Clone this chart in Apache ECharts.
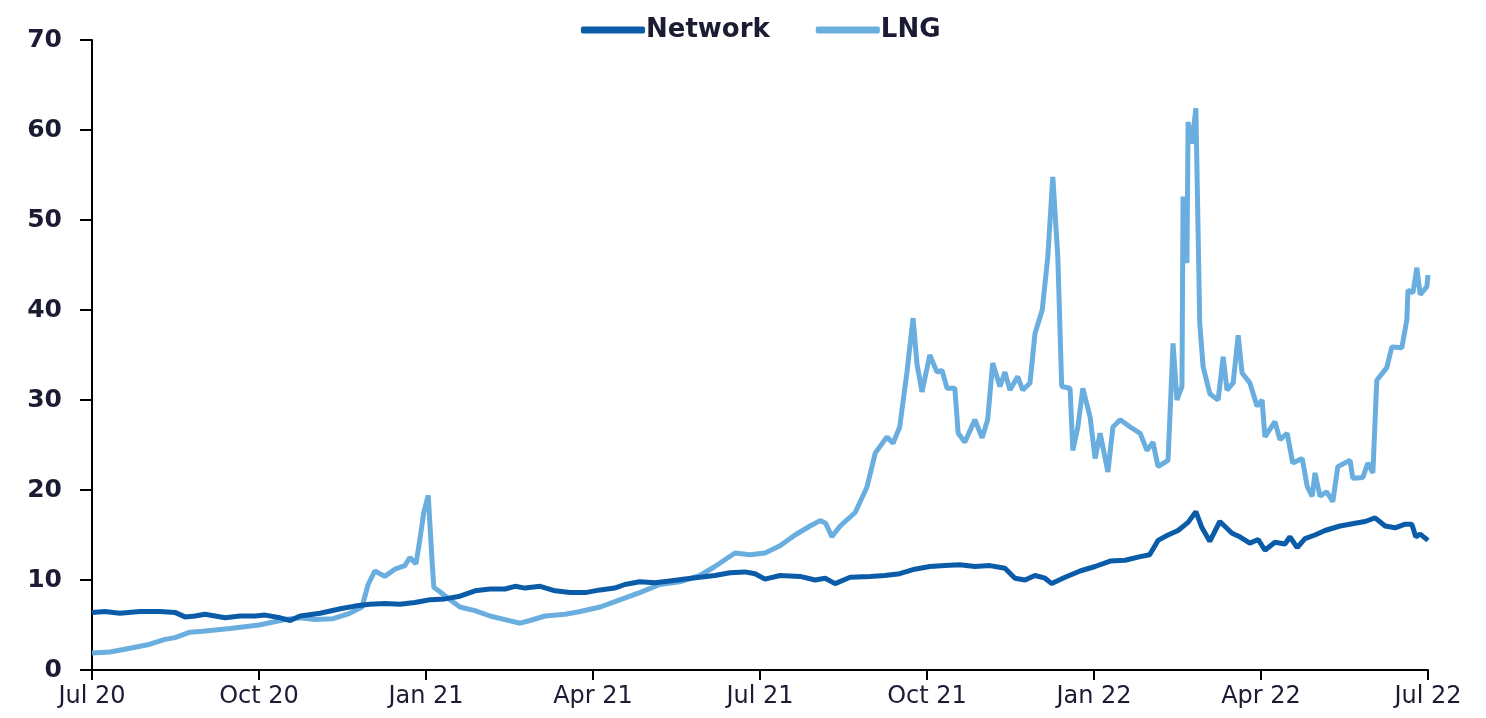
<!DOCTYPE html>
<html>
<head>
<meta charset="utf-8">
<script src="https://cdn.jsdelivr.net/npm/echarts@6/dist/echarts.min.js"></script>
<style>
html,body{margin:0;padding:0;background:#fff;}
#chart{width:1486px;height:718px;}
</style>
</head>
<body>
<div id="chart"></div>
<script>
// x values are months since Jul 2020
const xTickLabels = ['Jul 20','Oct 20','Jan 21','Apr 21','Jul 21','Oct 21','Jan 22','Apr 22','Jul 22'];
const seriesNames = ['Network','LNG'];

const networkMonths = [0,0.23,0.5,0.86,1.22,1.49,1.67,1.85,2.03,2.21,2.39,2.66,2.93,3.11,3.38,3.56,3.74,4.1,4.46,4.72,4.99,5.26,5.53,5.8,6.07,6.34,6.61,6.88,7.15,7.42,7.6,7.78,8.05,8.32,8.59,8.86,9.13,9.39,9.57,9.84,10.11,10.38,10.65,10.92,11.19,11.46,11.73,11.91,12.09,12.36,12.72,12.99,13.17,13.35,13.62,13.98,14.24,14.51,14.78,15.05,15.32,15.59,15.86,16.13,16.4,16.58,16.76,16.94,17.12,17.24,17.48,17.75,18.02,18.29,18.56,18.83,19.0,19.15,19.33,19.51,19.69,19.83,19.94,20.08,20.26,20.48,20.62,20.8,20.95,21.07,21.25,21.43,21.52,21.65,21.79,21.97,22.15,22.42,22.69,22.87,23.05,23.23,23.41,23.59,23.71,23.78,23.86,24];
const networkValues = [6.4,6.5,6.3,6.5,6.5,6.4,5.9,6.0,6.2,6.0,5.8,6.0,6.0,6.1,5.8,5.5,6.0,6.3,6.8,7.1,7.3,7.4,7.3,7.5,7.8,7.9,8.2,8.8,9.0,9.0,9.3,9.1,9.3,8.8,8.6,8.6,8.9,9.1,9.5,9.8,9.7,9.9,10.1,10.3,10.5,10.8,10.9,10.7,10.1,10.5,10.4,10.0,10.2,9.6,10.3,10.4,10.5,10.7,11.2,11.5,11.6,11.7,11.5,11.6,11.3,10.2,10.0,10.5,10.2,9.6,10.3,11.0,11.5,12.1,12.2,12.6,12.8,14.4,15.0,15.5,16.4,17.6,15.8,14.3,16.5,15.2,14.8,14.1,14.5,13.3,14.2,14.0,14.8,13.6,14.6,15.0,15.5,16.0,16.3,16.5,16.9,16.0,15.8,16.2,16.2,14.8,15.1,14.4];

const lngMonths = [0,0.32,0.59,1.0,1.31,1.49,1.76,1.99,2.48,3.0,3.47,3.74,4.0,4.33,4.63,4.85,4.96,5.08,5.26,5.44,5.62,5.71,5.82,5.89,5.96,6.04,6.11,6.14,6.25,6.39,6.61,6.88,7.15,7.42,7.69,7.87,8.14,8.5,8.77,9.13,9.48,9.84,10.2,10.56,10.92,11.19,11.55,11.82,12.09,12.36,12.63,12.9,13.08,13.18,13.29,13.44,13.71,13.92,14.07,14.28,14.39,14.51,14.64,14.75,14.82,14.91,15.05,15.18,15.27,15.36,15.5,15.56,15.68,15.86,15.99,16.09,16.18,16.31,16.4,16.49,16.63,16.72,16.85,16.94,17.07,17.17,17.26,17.35,17.42,17.57,17.62,17.71,17.8,17.93,18.02,18.11,18.25,18.34,18.47,18.65,18.83,18.95,19.06,19.15,19.33,19.42,19.49,19.58,19.6,19.67,19.69,19.76,19.83,19.9,19.96,20.08,20.23,20.32,20.39,20.5,20.59,20.66,20.8,20.93,21.02,21.07,21.25,21.34,21.47,21.57,21.74,21.83,21.92,21.97,22.06,22.18,22.29,22.38,22.6,22.65,22.83,22.92,23.01,23.08,23.26,23.35,23.53,23.62,23.64,23.73,23.8,23.86,23.98,24.0];
const lngValues = [1.9,2.0,2.3,2.8,3.4,3.6,4.2,4.3,4.6,5.0,5.6,5.8,5.6,5.7,6.3,7.0,9.5,11.0,10.4,11.2,11.6,12.5,11.8,14.5,17.5,19.4,12.0,9.2,8.7,8.0,7.0,6.6,6.0,5.6,5.2,5.5,6.0,6.2,6.5,7.0,7.8,8.6,9.5,9.8,10.5,11.5,13.0,12.8,13.0,13.8,15.0,16.0,16.6,16.3,14.8,16.0,17.5,20.3,24.1,25.9,25.2,27.0,33.1,39.1,34.0,30.9,35.0,33.1,33.3,31.3,31.3,26.3,25.3,27.8,25.8,27.8,34.1,31.5,33.1,31.1,32.6,31.1,31.9,37.4,40.0,45.9,54.8,45.9,31.5,31.3,24.4,27.0,31.3,28.1,23.5,26.3,22.0,27.0,27.8,27.0,26.3,24.4,25.3,22.6,23.3,36.3,30.0,31.5,52.6,45.2,60.9,58.5,62.4,38.5,33.7,30.7,30.0,34.8,31.1,31.9,37.2,33.0,31.9,29.3,30.0,25.9,27.6,25.6,26.3,23.0,23.5,20.4,19.3,21.9,19.3,19.8,18.7,22.6,23.3,21.3,21.4,23.0,21.9,32.2,33.6,35.9,35.8,38.9,42.2,41.9,44.7,41.7,42.6,43.9];

const pair = (xs, ys) => xs.map((x, i) => [x, ys[i]]);

const chart = echarts.init(document.getElementById('chart'), null, {renderer: 'canvas'});
const textColor = '#1b1b33';
chart.setOption({
  animation: false,
  backgroundColor: '#fff',
  legend: {
    top: 12,
    left: 576,
    itemWidth: 64,
    itemHeight: 7,
    itemGap: 46,
    icon: 'roundRect',
    textStyle: {fontFamily: 'DejaVu Sans', fontWeight: 'bold', fontSize: 26, color: textColor, padding: [0,0,0,-4]},
    data: seriesNames
  },
  grid: {left: 92, right: 58, top: 40, bottom: 48, containLabel: false},
  xAxis: {
    type: 'value',
    min: 0, max: 24, interval: 3,
    axisLine: {show: true, lineStyle: {color: '#000', width: 2}},
    axisTick: {show: true, length: 10, lineStyle: {color: '#000', width: 2}},
    splitLine: {show: false},
    axisLabel: {
      margin: 15,
      fontFamily: 'DejaVu Sans', fontSize: 24, color: textColor,
      formatter: v => xTickLabels[Math.round(v / 3)]
    }
  },
  yAxis: {
    type: 'value',
    min: 0, max: 70, interval: 10,
    axisLine: {show: true, lineStyle: {color: '#000', width: 2}},
    axisTick: {show: true, length: 12, lineStyle: {color: '#000', width: 2}},
    splitLine: {show: false},
    axisLabel: {margin: 30, fontFamily: 'DejaVu Sans', fontWeight: 'bold', fontSize: 25, color: textColor}
  },
  series: [
    {name: seriesNames[0], type: 'line', data: pair(networkMonths, networkValues), showSymbol: false,
     lineStyle: {color: '#0b5ca8', width: 5}, itemStyle: {color: '#0b5ca8'}, z: 3},
    {name: seriesNames[1], type: 'line', data: pair(lngMonths, lngValues), showSymbol: false,
     lineStyle: {color: '#6aaee0', width: 5}, itemStyle: {color: '#6aaee0'}, z: 2}
  ]
});
</script>
</body>
</html>
